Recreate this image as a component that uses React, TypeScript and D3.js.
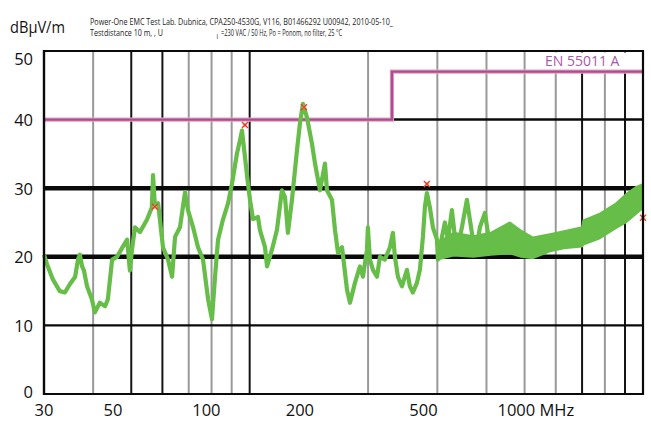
import React from 'react';
import * as d3 from 'd3';

// ---- data ----
const yTicks = [0, 10, 20, 30, 40, 50];
const xTickLabels = [30, 50, 100, 200, 500, 1000];
const gridFreqs = [40, 50, 60, 70, 80, 90, 100, 200, 300, 400, 500, 600, 700, 800, 900];
const gridDark = [false, true, true, false, false, false, true, false, false, false, false, false, true, false, true];

const limitFreq = [30, 230, 230, 1000];
const limitLevel = [40, 40, 47, 47];
const limitName = 'EN 55011 A';

const traceFreq = [30.0,30.5,31.6,32.9,33.9,34.9,36.0,36.6,37.0,37.5,
  37.9,38.6,39.7,40.4,41.6,42.9,43.6,44.7,46.0,47.4,
  48.8,49.6,50.2,51.1,52.6,54.8,56.4,56.8,57.4,58.5,
  60.2,62.0,63.5,64.6,66.5,68.5,69.7,71.8,73.9,76.1,
  78.4,80.2,81.6,83.1,85.5,88.1,90.2,92.8,94.5,95.6,
  97.3,99.0,100.2,102.0,105.0,106.2,109.4,110.7,113.9,117.3,
  120.8,123.0,125.1,128.1,131.9,134.2,136.6,139.9,144.0,146.6,
  150.9,155.4,157.2,161.9,164.8,167.7,171.7,176.8,179.9,185.2,
  190.7,194.1,198.7,199.8,202.2,205.8,210.7,214.4,220.7,227.3,
  231.3,234.0,238.2,243.8,251.1,255.5,260.0,266.2,270.9,275.7,
  278.9,282.2,287.2,292.3,299.3,301.1,308.2,313.6,319.2,326.7,
  332.5,338.4,346.4,356.7,363.0,369.4,378.2,384.9,396.4,403.4,
  413.0,425.2,440.5,458.9];
const traceLevel = [20.3,19.0,16.7,15.0,14.8,16.0,17.1,19.6,20.3,18.6,
  18.0,15.7,13.8,11.9,13.3,12.8,13.8,19.6,20.0,21.3,
  22.5,18.0,21.0,24.3,23.6,25.4,27.2,31.9,27.5,27.8,
  21.4,19.6,17.1,22.9,24.3,29.4,26.8,24.3,21.4,19.6,
  13.8,10.9,16.9,22.5,25.4,27.8,30.7,35.0,37.0,38.4,
  34.5,30.7,28.3,25.5,25.8,23.9,21.4,18.6,21.0,23.9,
  29.7,28.7,23.5,28.3,35.5,39.4,42.3,40.3,36.5,33.6,
  29.7,33.6,29.7,28.3,23.9,20.6,21.4,15.2,13.3,16.2,
  18.6,17.1,21.0,24.3,19.6,18.1,17.1,20.0,19.6,21.4,
  23.5,20.0,17.1,15.7,18.1,15.7,14.8,16.2,18.1,22.9,
  27.2,29.3,27.2,24.3,22.5,19.6,22.9,25.0,22.5,26.8,
  22.9,21.4,24.3,28.3,25.4,22.5,21.4,24.3,26.4,23.5,
  22.0,21.4,22.5,22.9];

const bandFreq = [300, 330, 370, 410, 459, 490, 525, 580, 638, 700, 705, 777, 855, 909, 962, 1000];
const bandHi = [22.0, 23.5, 23.0, 23.5, 25.0, 23.8, 22.8, 23.3, 23.8, 24.3, 25.3, 26.3, 27.8, 29.2, 30.2, 30.6];
const bandLo = [19.6, 20.2, 20.0, 20.3, 20.5, 20.0, 19.8, 20.8, 21.3, 21.5, 21.8, 22.7, 24.2, 25.1, 26.3, 27.1];

const markerFreq = [57.4, 97.3, 137.4, 282.2, 1000];
const markerLevel = [27.3, 39.2, 41.8, 30.6, 25.7];

const unitLabel = 'dBμV/m';
const headerLine1 = 'Power-One EMC Test Lab. Dubnica, CPA250-4530G, V116, B01466292 U00942, 2010-05-10_';
const headerLine2a = 'Testdistance 10 m, , U';
const headerLine2b = 'i';
const headerLine2c = '=230 VAC / 50 Hz, Po = Ponom, no filter, 25 °C';

// ---- layout ----
const W = 651, H = 428;
const L = 44, R = 643, T = 51, B = 394;
const FONT = '"Open Sans", "Noto Sans", sans-serif';
const GREEN = '#66bd48';
const PURPLE = '#a0509f';

export default function App() {
  const x = d3.scaleLog().domain([30, 1000]).range([L, R]);
  const xLabel = d3.scaleLog().domain([30, 1000]).range([L, 517]);
  const y = d3.scaleLinear().domain([0, 50]).range([B, T]);

  const line = d3.line<number>().x((_, i) => x(traceFreq[i])).y((d) => y(d));
  const area = d3.area<number>()
    .x((_, i) => x(bandFreq[i]))
    .y0((_, i) => y(bandLo[i]))
    .y1((d) => y(d));
  const limitPath = d3.line<number>().x((_, i) => x(limitFreq[i])).y((d) => y(d))(limitLevel) || '';

  const hWidth = (v: number) => (v === 20 || v === 30 ? 4.6 : v === 40 ? 2.5 : 2.2);

  return (
    <svg width={W} height={H} style={{ position: 'absolute', left: 0, top: 0, background: '#fff' }}>
      <rect x={0} y={0} width={W} height={H} fill="#fff" />
      {/* vertical grid */}
      {gridFreqs.map((f, i) => (
        <line key={'v' + f} x1={x(f)} x2={x(f)} y1={T} y2={B}
          stroke={gridDark[i] ? '#151515' : '#999'} strokeWidth={2} />
      ))}
      {/* horizontal grid */}
      {yTicks.map((v) => (
        <line key={'h' + v} x1={L} x2={R} y1={y(v)} y2={y(v)} stroke="#0a0a0a" strokeWidth={hWidth(v)} />
      ))}
      {/* limit label box */}
      <rect x={532} y={T + 1.5} width={R - 533} height={y(47) - T - 3} fill="#fff" />
      <text x={545} y={66} fontFamily={FONT} fontSize={14} fill="#a45aab">{limitName}</text>
      {/* limit line */}
      <path d={limitPath} fill="none" stroke="#f3a0b0" strokeWidth={4.2} />
      <path d={limitPath} fill="none" stroke={PURPLE} strokeWidth={2.4} />
      {/* trace */}
      <path d={area(bandHi) || ''} fill={GREEN} stroke={GREEN} strokeWidth={2} strokeLinejoin="round" />
      <path d={line(traceLevel) || ''} fill="none" stroke={GREEN} strokeWidth={4.2} strokeLinejoin="round" />
      {/* markers */}
      {markerFreq.map((f, i) => {
        const cx = x(f), cy = y(markerLevel[i]);
        return (
          <g key={'m' + i}>
            <circle cx={cx} cy={cy} r={2} fill="#f5b830" />
            <path d={`M${cx - 3},${cy - 3}L${cx + 3},${cy + 3}M${cx - 3},${cy + 3}L${cx + 3},${cy - 3}`}
              stroke="#e8403a" strokeWidth={1.4} />
          </g>
        );
      })}
      {/* frame */}
      <line x1={L} x2={L} y1={T - 1} y2={B + 1} stroke="#0a0a0a" strokeWidth={2.4} />
      <line x1={R} x2={R} y1={T - 1} y2={B + 1} stroke="#0a0a0a" strokeWidth={2.2} />
      {/* y labels */}
      {yTicks.map((v) => (
        <text key={'yl' + v} x={33} y={Math.min(Math.max(y(v), 58), 391)} textAnchor="end"
          dominantBaseline="central" fontFamily={FONT} fontSize={16.5} fill="#111">{v}</text>
      ))}
      {/* x labels */}
      {xTickLabels.map((f) => (
        f === 1000 ? (
          <text key={'xl' + f} x={xLabel(f) - 19.5} y={416} fontFamily={FONT} fontSize={16.5} fill="#111">{f + ' MHz'}</text>
        ) : (
          <text key={'xl' + f} x={xLabel(f)} y={416} textAnchor="middle" fontFamily={FONT} fontSize={16.5} fill="#111">{f}</text>
        )
      ))}
      {/* titles */}
      <text x={10} y={33} fontFamily={FONT} fontSize={17} fill="#111" textLength={55} lengthAdjust="spacingAndGlyphs">{unitLabel}</text>
      <text x={90} y={25} fontFamily={FONT} fontSize={8.6} fill="#222" textLength={303} lengthAdjust="spacingAndGlyphs">{headerLine1}</text>
      <text x={90} y={36} fontFamily={FONT} fontSize={8.6} fill="#222" textLength={73} lengthAdjust="spacingAndGlyphs">{headerLine2a}</text>
      <text x={216.5} y={38.5} fontFamily={FONT} fontSize={6.5} fill="#222">{headerLine2b}</text>
      <text x={221} y={36} fontFamily={FONT} fontSize={8.6} fill="#222" textLength={121} lengthAdjust="spacingAndGlyphs">{headerLine2c}</text>
    </svg>
  );
}
